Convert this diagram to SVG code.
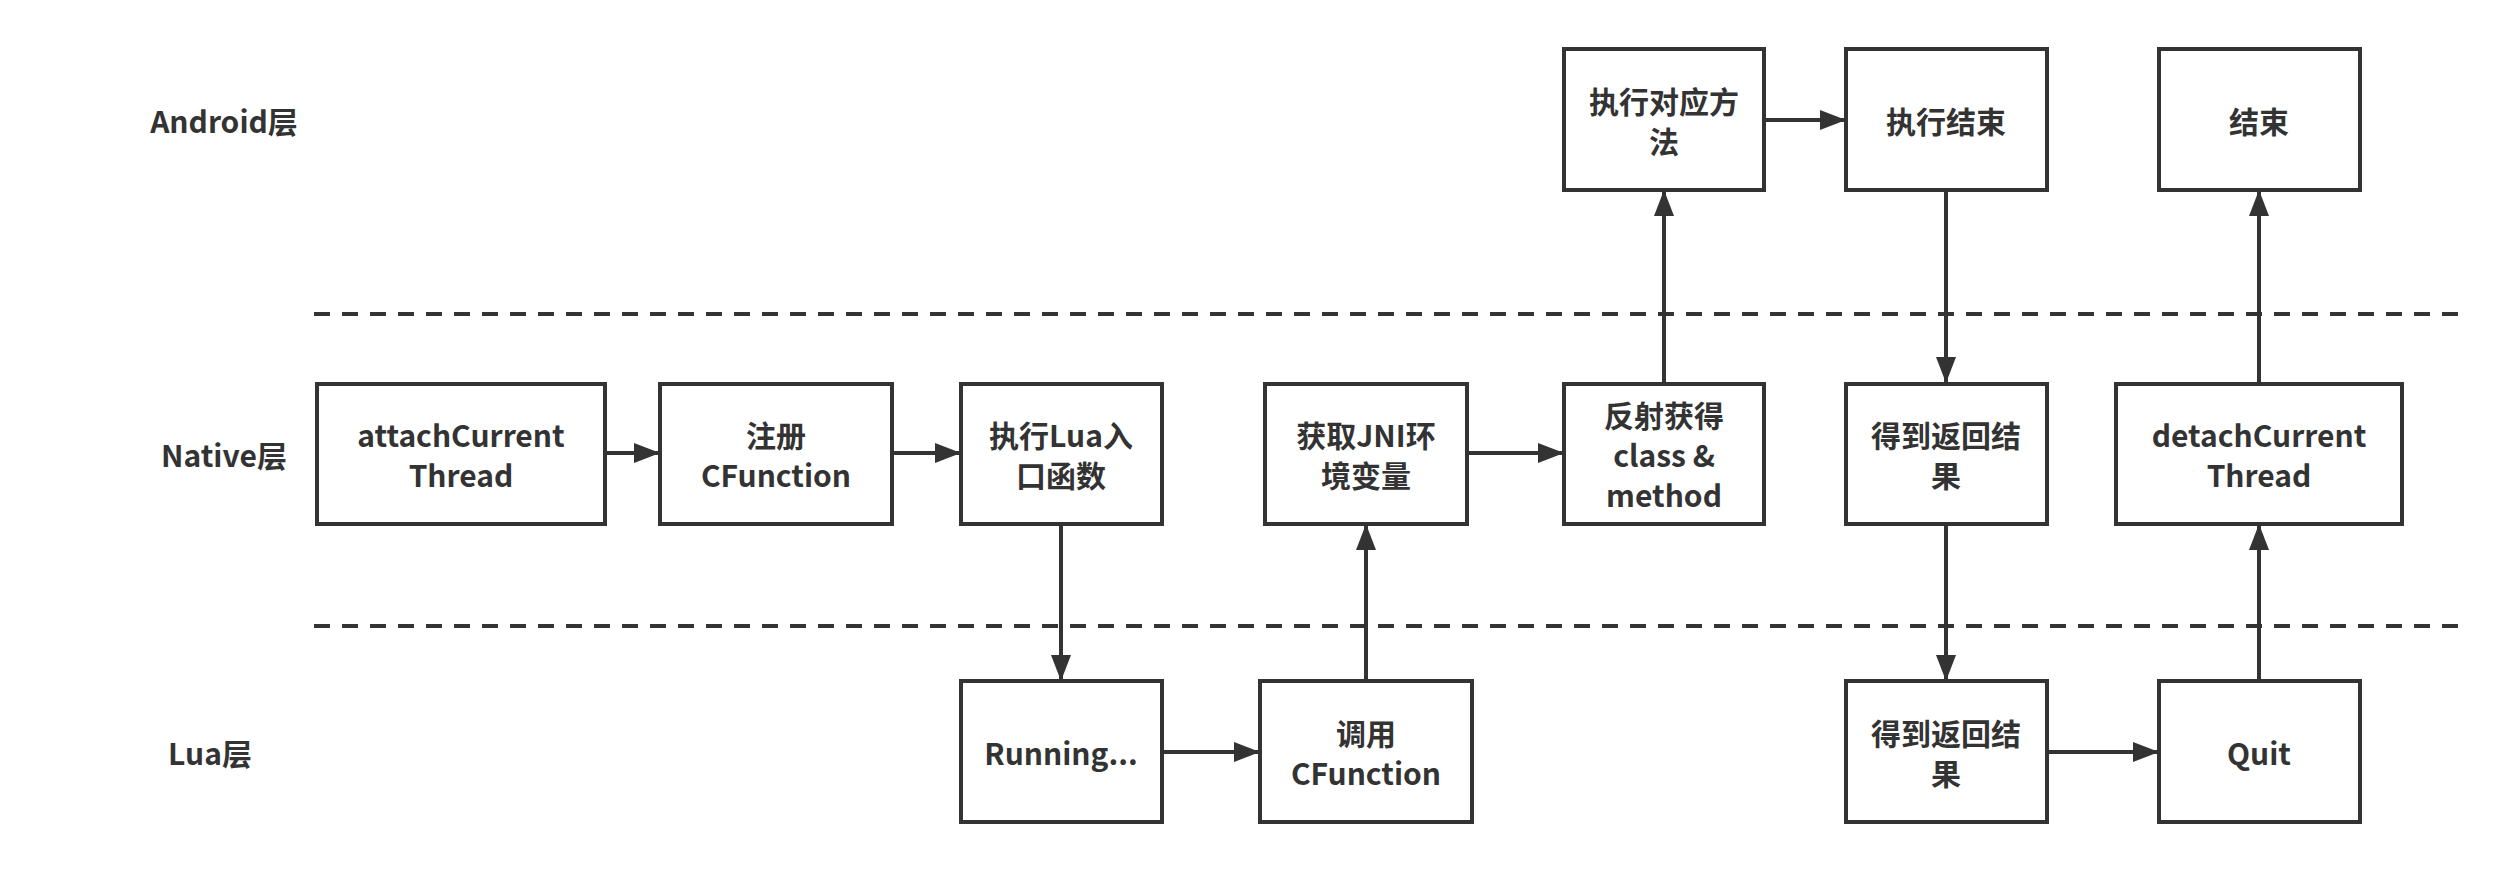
<svg xmlns="http://www.w3.org/2000/svg" width="2508" height="872" viewBox="0 0 2508 872">
<style>
.box{fill:#fff;stroke:#333;stroke-width:4}
text{font-family:"Noto Sans CJK SC","Noto Sans",sans-serif;font-weight:bold;font-size:30px;fill:#333;text-anchor:middle;dominant-baseline:central}
.c{stroke:#333;stroke-width:4;fill:none;marker-end:url(#a)}
.d{stroke:#333;stroke-width:4;stroke-dasharray:16 12}
</style>
<defs><marker id="a" markerUnits="userSpaceOnUse" markerWidth="26" markerHeight="20" refX="26" refY="10" orient="auto"><path d="M0,0L26,10L0,20Z" fill="#333"/></marker></defs>
<rect width="2508" height="872" fill="#fff"/>
<g id="layers">
<text x="224" y="120">Android层</text>
<text x="224" y="454">Native层</text>
<text x="210" y="752">Lua层</text>
<line class="d" x1="314" y1="314" x2="2461" y2="314"/>
<line class="d" x1="314" y1="626" x2="2461" y2="626"/>
</g>
<g id="connectors">
<line class="c" x1="605" y1="453" x2="660" y2="453"/>
<line class="c" x1="892" y1="453" x2="961" y2="453"/>
<line class="c" x1="1061" y1="524" x2="1061" y2="681"/>
<line class="c" x1="1162" y1="752" x2="1260" y2="752"/>
<line class="c" x1="1366" y1="681" x2="1366" y2="524"/>
<line class="c" x1="1467" y1="453" x2="1564" y2="453"/>
<line class="c" x1="1664" y1="383" x2="1664" y2="190"/>
<line class="c" x1="1764" y1="120" x2="1846" y2="120"/>
<line class="c" x1="1946" y1="190" x2="1946" y2="383"/>
<line class="c" x1="1946" y1="524" x2="1946" y2="681"/>
<line class="c" x1="2047" y1="752" x2="2159" y2="752"/>
<line class="c" x1="2259" y1="681" x2="2259" y2="524"/>
<line class="c" x1="2259" y1="383" x2="2259" y2="190"/>
</g>
<g id="attach"><rect class="box" x="317" y="384" width="288" height="140"/><text x="461" y="434">attachCurrent</text><text x="461" y="474">Thread</text></g>
<g id="reg"><rect class="box" x="660" y="384" width="232" height="140"/><text x="776" y="434">注册</text><text x="776" y="474">CFunction</text></g>
<g id="luaentry"><rect class="box" x="961" y="384" width="201" height="140"/><text x="1061" y="434">执行Lua入</text><text x="1061" y="474">口函数</text></g>
<g id="running"><rect class="box" x="961" y="681" width="201" height="141"/><text x="1061" y="752">Running...</text></g>
<g id="call"><rect class="box" x="1260" y="681" width="212" height="141"/><text x="1366" y="732">调用</text><text x="1366" y="772">CFunction</text></g>
<g id="jni"><rect class="box" x="1265" y="384" width="202" height="140"/><text x="1366" y="434">获取JNI环</text><text x="1366" y="474">境变量</text></g>
<g id="reflect"><rect class="box" x="1564" y="384" width="200" height="140"/><text x="1664" y="414">反射获得</text><text x="1664" y="454">class &amp;</text><text x="1664" y="494">method</text></g>
<g id="exec"><rect class="box" x="1564" y="49" width="200" height="141"/><text x="1664" y="100">执行对应方</text><text x="1664" y="140">法</text></g>
<g id="execend"><rect class="box" x="1846" y="49" width="201" height="141"/><text x="1946" y="120">执行结束</text></g>
<g id="end"><rect class="box" x="2159" y="49" width="201" height="141"/><text x="2259" y="120">结束</text></g>
<g id="result1"><rect class="box" x="1846" y="384" width="201" height="140"/><text x="1946" y="434">得到返回结</text><text x="1946" y="474">果</text></g>
<g id="detach"><rect class="box" x="2116" y="384" width="286" height="140"/><text x="2259" y="434">detachCurrent</text><text x="2259" y="474">Thread</text></g>
<g id="result2"><rect class="box" x="1846" y="681" width="201" height="141"/><text x="1946" y="732">得到返回结</text><text x="1946" y="772">果</text></g>
<g id="quit"><rect class="box" x="2159" y="681" width="201" height="141"/><text x="2259" y="752">Quit</text></g>
</svg>
